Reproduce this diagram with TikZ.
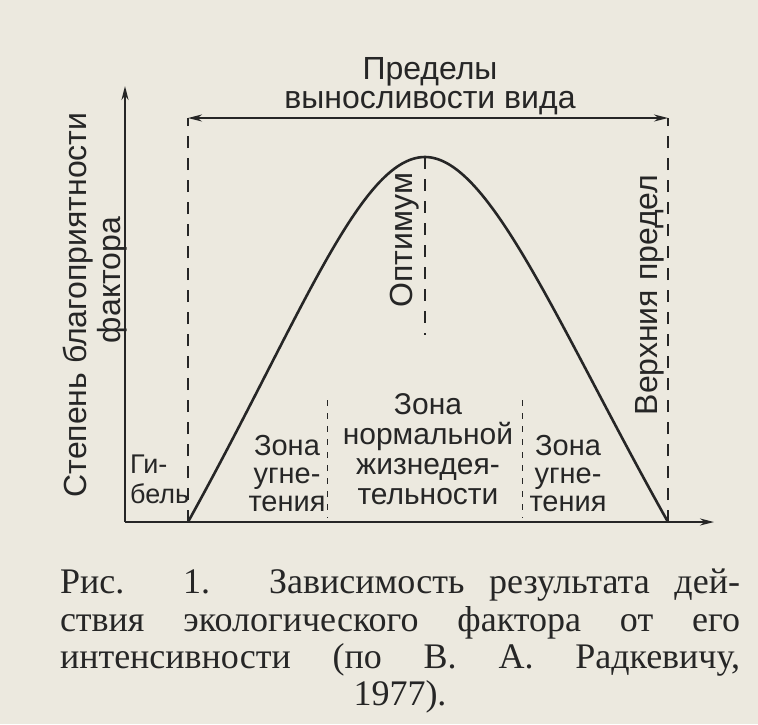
\documentclass[tikz,border=0pt]{standalone}
\usepackage{fontspec}
\setmainfont{Liberation Serif}
\newfontfamily\grotesk{Liberation Sans}
\usetikzlibrary{arrows.meta}
\tikzset{>={Stealth[length=14pt,width=7pt]}}
\definecolor{paper}{HTML}{ECE9DF}
\definecolor{ink}{HTML}{262626}

\begin{document}
\begin{tikzpicture}[x=1pt,y=-1pt,color=ink,
  lbl/.style={font=\grotesk\fontsize{32}{29}\selectfont,align=center,inner sep=0pt},
  zonelbl/.style={lbl,font=\grotesk\fontsize{29}{28}\selectfont},
  limit/.style={line width=1.6pt,dash pattern=on 12pt off 10pt},
  zone/.style={line width=0.8pt,dash pattern=on 6pt off 7pt},
  capline/.style={font=\fontsize{36}{37}\selectfont,inner sep=0pt}]
\fill[paper] (0,0) rectangle (758,724);
\useasboundingbox (0,0) rectangle (758,724);
% axes
\coordinate (O) at (125,522);
\coordinate (ytop) at (125,86);
\coordinate (xend) at (714,522);
\draw[->,line width=2pt] (O) -- (ytop);
\draw[->,line width=2pt] (O) -- (xend);
% limits of tolerance
\coordinate (lo) at (188,522);
\coordinate (hi) at (668,522);
\coordinate (lotop) at (188,118);
\coordinate (hitop) at (668,118);
\coordinate (peak) at (425,157);
\draw[limit] (lo) -- (lotop);
\draw[limit] (hi) -- (hitop);
\draw[<->,line width=1.8pt] (lotop) -- (hitop);
% curve
\draw[line width=2.6pt] (lo) .. controls (300,320) and (360,157) .. (peak)
  .. controls (490,157) and (560,330) .. (hi);
% zone borders
\coordinate (opt) at (425,335);
\coordinate (za) at (327,400);
\coordinate (zb) at (522,400);
\coordinate (za0) at (327,518);
\coordinate (zb0) at (522,518);
\draw[limit,line width=1.2pt] (peak) -- (opt);
\draw[zone] (za) -- (za0);
\draw[zone] (zb) -- (zb0);
% labels
\node[lbl] (range) at (430,86) {Пределы\\выносливости вида};
\node[lbl,rotate=90] (ylbl) at (78,305) {Степень благоприятности};
\node[lbl,rotate=90] (ylbl2) at (112,280) {фактора};
\node[lbl,rotate=90] (optlbl) at (405,240) {Оптимум};
\node[lbl,rotate=90] (toplbl) at (650,295) {Верхния предел};
\node[zonelbl,font=\grotesk\fontsize{27}{30}\selectfont,align=left,anchor=west] (death) at (130,479) {Ги-\\бель};
\node[zonelbl] (opp1) at (287,474) {Зона\\угне-\\тения};
\node[zonelbl,font=\grotesk\fontsize{30}{30}\selectfont] (norm) at (428,449) {Зона\\нормальной\\жизнедея-\\тельности};
\node[zonelbl] (opp2) at (568,474) {Зона\\угне-\\тения};
% caption
\node[capline] (cap1) at (400,585) {\makebox[680pt][s]{Рис. 1. Зависимость результата дей-}};
\node[capline] (cap2) at (400,623) {\makebox[680pt][s]{ствия экологического фактора от его}};
\node[capline] (cap3) at (400,660) {\makebox[680pt][s]{интенсивности (по В. А. Радкевичу,}};
\node[capline] (cap4) at (400,697) {1977).};
\end{tikzpicture}
\end{document}
